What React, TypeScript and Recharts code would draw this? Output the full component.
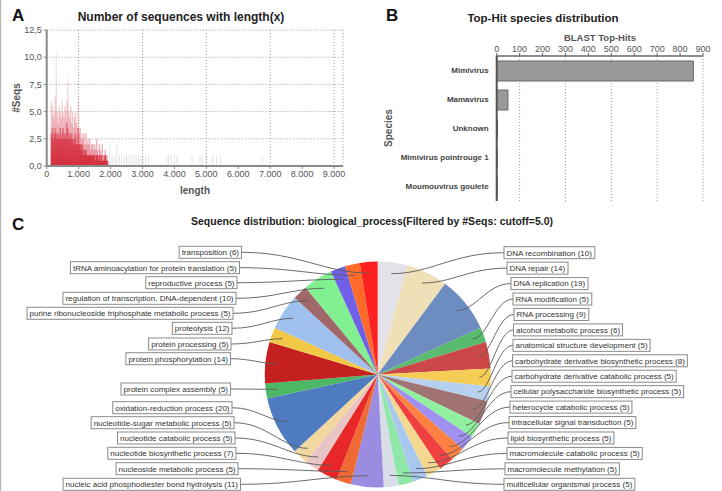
import React from 'react';
import { BarChart, Bar, XAxis, YAxis, CartesianGrid, PieChart, Pie, Cell } from 'recharts';

const FONT = "'Liberation Sans', Arial, Helvetica, sans-serif";

// ---------- A: number of sequences by length ----------
// dense range, 30-nt bins: typical count and peak count per bin
const binLengths = [
  150, 180, 210, 240, 270, 300, 330, 360, 390, 420,
  450, 480, 510, 540, 570, 600, 630, 660, 690, 720,
  750, 780, 810, 840, 870, 900, 930, 960, 990, 1020,
  1050, 1080, 1110, 1140, 1170, 1200, 1230, 1260, 1290, 1320,
  1350, 1380, 1410, 1440, 1470, 1500, 1530, 1560, 1590, 1620,
  1650, 1680, 1710, 1740, 1770, 1800, 1830, 1860, 1890, 1920,
];
const baseCounts = [
  3, 3.5, 2.5, 3, 3.5, 3, 2.5, 3, 2.5, 3.5,
  2.5, 3, 3.5, 2.5, 3, 2.5, 4, 3.5, 2.5, 3,
  2.5, 3, 2.5, 2, 2.5, 3, 2, 2, 3.5, 2,
  2, 1.5, 2, 1, 1.5, 1, 1.5, 1, 1, 1,
  1, 1, 1, 1, 1, 1, 0.5, 1, 1, 0.5,
  1, 0.5, 1, 0.5, 0.5, 0.5, 1, 0.5, 0.5, 0,
];
const peakCounts = [
  6, 5.5, 4.5, 5, 6.5, 10.5, 5, 4, 5.5, 5,
  4.5, 6, 5, 4.5, 5.5, 5, 6, 8, 5, 4.5,
  5.5, 4, 5, 3.5, 4.5, 5, 4, 3.5, 6, 3,
  3.5, 2.5, 3, 2.5, 3, 2, 3, 2, 2.5, 2,
  2.5, 1.5, 2, 2, 1.5, 2, 1.5, 2.5, 1.5, 1,
  2, 1.5, 1, 2, 1, 1, 1.5, 1, 1, 0.5,
];
// sparse long sequences
const tailLengths = [1980, 2050, 2130, 2200, 2280, 2350, 2430, 2500, 2580, 2650, 2720, 2800, 2880, 2950, 3020, 3100, 3200, 3750, 3820, 3900, 4000, 4080, 4550, 4800, 4870, 5000, 5200, 5320, 5450, 6750];
const tailCounts = [2, 1, 1, 2, 1, 1, 1, 1, 1, 1, 1, 1, 1, 1, 1, 1, 1, 1, 1, 1, 1, 1, 1, 1, 1, 1, 1, 1, 1, 1];
const lengthTicks = [0, 1000, 2000, 3000, 4000, 5000, 6000, 7000, 8000, 9000];
const seqTicks = [0, 2.5, 5, 7.5, 10, 12.5];

// ---------- B: top-hit species ----------
const species = ['Mimivirus', 'Mamavirus', 'Unknown', 'Mimivirus pointrouge 1', 'Moumouvirus goulete'];
const topHits = [858, 49, 3, 2, 2];
const hitTicks = [0, 100, 200, 300, 400, 500, 600, 700, 800, 900];

// ---------- C: biological process distribution ----------
const goTerms = [
  'DNA recombination', 'DNA repair', 'DNA replication', 'RNA modification', 'RNA processing',
  'alcohol metabolic process', 'anatomical structure development',
  'carbohydrate derivative biosynthetic process', 'carbohydrate derivative catabolic process',
  'cellular polysaccharide biosynthetic process', 'heterocycle catabolic process',
  'intracellular signal transduction', 'lipid biosynthetic process', 'macromolecule catabolic process',
  'macromolecule methylation', 'multicellular organismal process',
  'nucleic acid phosphodiester bond hydrolysis', 'nucleoside metabolic process',
  'nucleotide biosynthetic process', 'nucleotide catabolic process', 'nucleotide-sugar metabolic process',
  'oxidation-reduction process', 'protein complex assembly', 'protein phosphorylation',
  'protein processing', 'proteolysis', 'purine ribonucleoside triphosphate metabolic process',
  'regulation of transcription, DNA-dependent', 'reproductive process',
  'tRNA aminoacylation for protein translation', 'transposition',
];
const goCounts = [10, 14, 19, 5, 9, 6, 5, 8, 5, 5, 5, 5, 5, 5, 5, 5, 11, 5, 7, 5, 5, 20, 5, 14, 5, 12, 5, 10, 5, 5, 6];
const goColors = [
  '#e2e2e8', '#f0e0b8', '#6d8cc0', '#5aba6e', '#cc4848', '#f5cd55', '#b8d0f0', '#a07474',
  '#90f0a0', '#a090f0', '#ff8040', '#f04040', '#f5d890', '#a8c8f0', '#90e8a8', '#d8dde8',
  '#9a8ce0', '#f06a35', '#e82828', '#e8c4c4', '#f2d8a0', '#4f7cc0', '#4cb865', '#c42020',
  '#f0c845', '#a0c0f0', '#a06868', '#80f090', '#7060e8', '#ff6a2a', '#ff2020',
];

const histData = [
  ...binLengths.map((len, i) => ({ len, dense: baseCounts[i], extra: peakCounts[i] - baseCounts[i], tail: 0 })),
  ...tailLengths.map((len, i) => ({ len, dense: 0, extra: 0, tail: tailCounts[i] })),
];
const speciesData = species.map((name, i) => ({ name, hits: topHits[i] }));
const goData = goTerms.map((name, i) => ({ name, value: goCounts[i] }));
const goTotal = goCounts.reduce((s, v) => s + v, 0);

// label column layout for the pie (page coordinates)
const PIE_TOP = 205;
const RIGHT_BOX_LEFT = [504, 507, 511, 513, 514, 513.5, 513, 512.5, 512, 511, 510, 509, 508, 507, 505, 504];
const RIGHT_BOX_Y0 = 252.7;
const RIGHT_BOX_STEP = 15.44;
const LEFT_BOX_RIGHT = [241.5, 239.5, 237, 236, 233, 232, 231, 230.5, 230.5, 232, 234, 235, 236, 238, 240.5];
const LEFT_BOX_Y = [252.3, 267.7, 282.7, 298.3, 313.3, 328.3, 344, 358.7, 389, 407.7, 422.7, 438, 453.3, 468.7, 484.3];

let measureCtx: CanvasRenderingContext2D | null = null;
function textWidth(s: string, font: string): number {
  if (!measureCtx) measureCtx = document.createElement('canvas').getContext('2d');
  if (!measureCtx) return s.length * 3.9;
  measureCtx.font = font;
  return measureCtx.measureText(s).width;
}

const LABEL_FONT_SIZE = 8;

// number of slices whose middle lies on the right half of the pie
const rightCount = goCounts.filter((_, i) => {
  const mid = goCounts.slice(0, i).reduce((s, v) => s + v, 0) + goCounts[i] / 2;
  return mid / goTotal < 0.5;
}).length;

function renderGoLabel(props: any) {
  const { cx, cy, midAngle, outerRadius, index } = props;
  const item = goData[index];
  const RAD = Math.PI / 180;
  const r = outerRadius * 0.9;
  const xi = cx + r * Math.cos(-midAngle * RAD);
  const yi = cy + r * Math.sin(-midAngle * RAD);
  const text = `${item.name} (${item.value})`;
  const w = textWidth(text, `${LABEL_FONT_SIZE}px 'Liberation Sans'`) + 5;
  const h = 12;
  let bx: number;
  let by: number;
  let rectX: number;
  let d: string;
  if (index < rightCount) {
    by = RIGHT_BOX_Y0 + index * RIGHT_BOX_STEP - PIE_TOP;
    bx = RIGHT_BOX_LEFT[index];
    rectX = bx;
    const span = bx - xi;
    d = `M${bx},${by} C${bx - span * 0.45},${by} ${xi + span * 0.35},${yi} ${xi},${yi}`;
  } else {
    const slot = goData.length - 1 - index;
    by = LEFT_BOX_Y[slot] - PIE_TOP;
    bx = LEFT_BOX_RIGHT[slot];
    rectX = bx - w;
    const span = xi - bx;
    d = `M${bx},${by} C${bx + span * 0.45},${by} ${xi - span * 0.35},${yi} ${xi},${yi}`;
  }
  return (
    <g key={`lbl-${index}`}>
      <path d={d} fill="none" stroke="#5a5a5a" strokeWidth={0.9} />
      <rect x={rectX} y={by - h / 2} width={w} height={h} fill="#fff" stroke="#8a8a8a" strokeWidth={1} />
      <text
        x={rectX + 2.5}
        y={by}
        dy="0.35em"
        fontSize={LABEL_FONT_SIZE}
        fontFamily={FONT}
        fill="#333"
        style={{ fill: '#333', stroke: 'none' }}
      >
        {text}
      </text>
    </g>
  );
}

function SpeciesTick(props: any) {
  const { x, y, payload } = props;
  return (
    <text x={x} y={y} dy="0.35em" textAnchor="end" fontSize={8} fontWeight="bold" fontFamily={FONT} fill="#444">
      {payload.value}
    </text>
  );
}

// histogram bar drawn at a fixed pixel width, centred on the bin position
function makeSliver(width: number, fill: string, opacity = 1) {
  return (p: any) => {
    if (!p.height || p.height <= 0) return <g />;
    const cxBar = p.x + p.width / 2;
    return <rect x={cxBar - width / 2} y={p.y} width={width} height={p.height} fill={fill} fillOpacity={opacity} />;
  };
}

const fmtLength = (v: number) => (v === 0 ? '0' : `${v / 1000}.000`);
const fmtSeqs = (v: number) => v.toFixed(1).replace('.', ',');

export default function App() {
  return (
    <div style={{ position: 'absolute', left: 0, top: 0, width: 722, height: 491, background: '#fff', fontFamily: FONT, overflow: 'hidden' }}>
      <div style={{ position: 'absolute', left: 0, top: 0, width: 360, height: 200 }}>
        <BarChart width={360} height={200} data={histData} margin={{ top: 30, right: 17, bottom: 14, left: 0 }} barGap={0}>
          <defs>
            <linearGradient id="histDense" gradientUnits="userSpaceOnUse" x1="0" y1="110" x2="0" y2="166">
              <stop offset="0" stopColor="#e05868" stopOpacity={0.5} />
              <stop offset="0.55" stopColor="#d83a4a" stopOpacity={0.85} />
              <stop offset="1" stopColor="#d42c3c" stopOpacity={0.95} />
            </linearGradient>
            <linearGradient id="histPeak" gradientUnits="userSpaceOnUse" x1="0" y1="30" x2="0" y2="166">
              <stop offset="0" stopColor="#eaa8b0" stopOpacity={0.1} />
              <stop offset="0.6" stopColor="#e07080" stopOpacity={0.35} />
              <stop offset="1" stopColor="#dc5060" stopOpacity={0.55} />
            </linearGradient>
          </defs>
          <CartesianGrid stroke="#9a9a9a" strokeDasharray="1 2" />
          <XAxis
            type="number"
            dataKey="len"
            domain={[0, 9280]}
            ticks={lengthTicks}
            tickFormatter={fmtLength}
            height={20}
            tickSize={3}
            tickMargin={2}
            axisLine={{ stroke: '#8a8a8a', strokeWidth: 2 }}
            tickLine={{ stroke: '#8a8a8a' }}
            tick={{ fontSize: 9, fill: '#555', fontFamily: FONT }}
            allowDataOverflow
          />
          <YAxis
            type="number"
            domain={[0, 12.5]}
            ticks={seqTicks}
            tickFormatter={fmtSeqs}
            width={46.7}
            tickSize={3}
            tickMargin={2}
            axisLine={{ stroke: '#8a8a8a', strokeWidth: 2 }}
            tickLine={{ stroke: '#8a8a8a' }}
            tick={{ fontSize: 9, fill: '#555', fontFamily: FONT }}
          />
          <Bar dataKey="dense" stackId="h" shape={makeSliver(1.8, 'url(#histDense)')} isAnimationActive={false} />
          <Bar dataKey="extra" stackId="h" shape={makeSliver(1.4, 'url(#histPeak)')} isAnimationActive={false} />
          <Bar dataKey="tail" stackId="h" shape={makeSliver(1, '#b8a0a6', 0.3)} isAnimationActive={false} />
        </BarChart>
      </div>

      <div style={{ position: 'absolute', left: 360, top: 0, width: 362, height: 210 }}>
        <BarChart layout="vertical" width={362} height={210} data={speciesData} margin={{ top: 41, right: 19, bottom: 9, left: 0 }}>
          <CartesianGrid horizontal={false} stroke="#9a9a9a" strokeDasharray="1 2" />
          <XAxis
            type="number"
            orientation="top"
            domain={[0, 900]}
            ticks={hitTicks}
            height={15}
            tickSize={3}
            tickMargin={1}
            axisLine={{ stroke: '#666', strokeWidth: 1.5 }}
            tickLine={{ stroke: '#666' }}
            tick={{ fontSize: 9, fill: '#555', fontFamily: FONT }}
          />
          <YAxis
            type="category"
            dataKey="name"
            width={136.7}
            tickSize={0}
            tickMargin={8}
            axisLine={{ stroke: '#555', strokeWidth: 2 }}
            tick={<SpeciesTick />}
          />
          <Bar dataKey="hits" fill="#9a9a9a" stroke="#666" strokeWidth={1} barSize={20} isAnimationActive={false} />
        </BarChart>
      </div>

      <div style={{ position: 'absolute', left: 0, top: PIE_TOP, width: 722, height: 286 }}>
        <PieChart width={722} height={286}>
          <Pie
            data={goData}
            dataKey="value"
            nameKey="name"
            cx={372.7}
            cy={164.5}
            outerRadius={113}
            startAngle={90}
            endAngle={-270}
            stroke="none"
            labelLine={false}
            label={renderGoLabel}
            isAnimationActive={false}
          >
            {goData.map((d, i) => (
              <Cell key={d.name} fill={goColors[i]} />
            ))}
          </Pie>
        </PieChart>
      </div>

      <svg width={722} height={491} style={{ position: 'absolute', left: 0, top: 0, pointerEvents: 'none' }} fontFamily={FONT}>
        <line x1={0.5} y1={0} x2={0.5} y2={491} stroke="#bbb" strokeWidth={1.5} />
        <text x={12} y={21} fontSize={17} fontWeight="bold" fill="#111">A</text>
        <text x={181} y={20.5} fontSize={12} fontWeight="bold" fill="#222" textAnchor="middle">Number of sequences with length(x)</text>
        <text x={0} y={0} transform="translate(20,98) rotate(-90)" fontSize={10} fontWeight="bold" fill="#555" textAnchor="middle">#Seqs</text>
        <text x={195} y={193.5} fontSize={10} fontWeight="bold" fill="#555" textAnchor="middle">length</text>

        <text x={386} y={20.5} fontSize={17} fontWeight="bold" fill="#111">B</text>
        <text x={543} y={21.5} fontSize={11.5} fontWeight="bold" fill="#222" textAnchor="middle">Top-Hit species distribution</text>
        <text x={600} y={41} fontSize={9.5} fontWeight="bold" fill="#555" textAnchor="middle">BLAST Top-Hits</text>
        <text x={0} y={0} transform="translate(392,128) rotate(-90)" fontSize={10} fontWeight="bold" fill="#555" textAnchor="middle">Species</text>

        <text x={12} y={230} fontSize={17} fontWeight="bold" fill="#111">C</text>
        <text x={372} y={225} fontSize={10.5} fontWeight="bold" fill="#222" textAnchor="middle">Sequence distribution: biological_process(Filtered by #Seqs: cutoff=5.0)</text>
      </svg>
    </div>
  );
}
